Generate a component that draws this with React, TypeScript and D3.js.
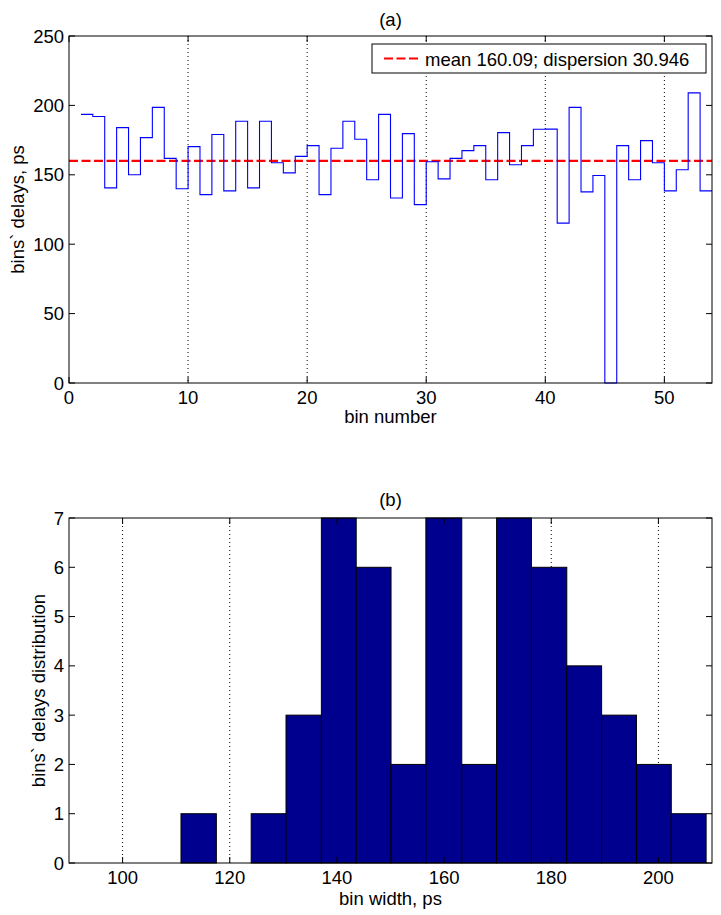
import React from "react";
import * as d3 from "d3";

const binNumbers = [1,2,3,4,5,6,7,8,9,10,11,12,13,14,15,16,17,18,19,20,21,22,23,24,25,26,27,28,29,30,31,32,33,34,35,36,37,38,39,40,41,42,43,44,45,46,47,48,49,50,51,52,53];
const binDelays = [193.5,192.0,140.6,184.0,150.0,176.8,198.6,161.8,139.9,170.3,135.7,179.0,138.4,188.6,140.6,188.6,158.7,151.4,163.3,171.0,135.7,169.1,188.6,175.6,146.4,193.5,133.3,179.7,128.5,159.4,147.1,161.8,167.4,171.0,146.4,180.4,157.2,171.0,182.8,182.9,115.2,198.6,137.7,149.5,0,171.0,146.4,174.6,158.7,138.4,153.6,209.0,138.4];
const meanDelay = 160.09;
const legendLabel = "mean 160.09; dispersion 30.946";

const histEdges = [110.9,117.5,124.0,130.5,137.1,143.6,150.1,156.6,163.3,169.8,176.3,182.9,189.4,195.9,202.4,208.9];
const histCounts = [1,0,1,3,7,6,2,7,2,7,6,4,3,2,1];

const topXTicks = [0,10,20,30,40,50];
const topYTicks = [0,50,100,150,200,250];
const botXTicks = [100,120,140,160,180,200];
const botYTicks = [0,1,2,3,4,5,6,7];

const FONT = "'Liberation Sans', Arial, Helvetica, sans-serif";
const FS = 18.5;

export default function App() {
  const L = 69, R = 712;
  const aT = 36, aB = 383;
  const bT = 518, bB = 863;

  const xA = d3.scaleLinear().domain([0, 54]).range([L, R]);
  const yA = d3.scaleLinear().domain([0, 250]).range([aB, aT]);
  const xB = d3.scaleLinear().domain([90, 210]).range([L, R]);
  const yB = d3.scaleLinear().domain([0, 7]).range([bB, bT]);

  const stairPts: [number, number][] = binNumbers.map((b, i) => [b, binDelays[i]]);
  stairPts.push([binNumbers[binNumbers.length - 1] + 1, binDelays[binDelays.length - 1]]);
  const stairPath = d3.line<[number, number]>()
    .x(d => xA(d[0]))
    .y(d => yA(d[1]))
    .curve(d3.curveStepAfter)(stairPts) || "";

  const tk = 6;

  const frame = (top: number, bottom: number) => (
    <rect x={L} y={top} width={R - L} height={bottom - top} fill="none" stroke="#000" strokeWidth={1} />
  );

  return (
    <svg width={721} height={915} style={{ display: "block", position: "absolute", left: 0, top: 0 }}
      fontFamily={FONT} fontSize={FS}>
      <rect x={0} y={0} width={721} height={915} fill="#fff" />

      {/* ---------- Top chart (a) ---------- */}
      <text x={(L + R) / 2} y={26} textAnchor="middle">(a)</text>
      {topXTicks.filter(t => t > 0).map(t => (
        <line key={"ga" + t} x1={xA(t)} x2={xA(t)} y1={aT} y2={aB} stroke="#000" strokeWidth={1} strokeDasharray="1,3" />
      ))}
      <line x1={L} x2={R} y1={yA(meanDelay)} y2={yA(meanDelay)} stroke="#ff0000" strokeWidth={2.2} strokeDasharray="9,3.5" />
      <path d={stairPath} fill="none" stroke="#0000ff" strokeWidth={1.1} />
      {frame(aT, aB)}
      {topXTicks.map(t => (
        <g key={"xa" + t}>
          <line x1={xA(t)} x2={xA(t)} y1={aB} y2={aB - tk} stroke="#000" />
          <line x1={xA(t)} x2={xA(t)} y1={aT} y2={aT + tk} stroke="#000" />
          <text x={xA(t)} y={aB + 21} textAnchor="middle">{t}</text>
        </g>
      ))}
      {topYTicks.map(t => (
        <g key={"ya" + t}>
          <line x1={L} x2={L + tk} y1={yA(t)} y2={yA(t)} stroke="#000" />
          <line x1={R} x2={R - tk} y1={yA(t)} y2={yA(t)} stroke="#000" />
          <text x={L - 5} y={yA(t) + 6.5} textAnchor="end">{t}</text>
        </g>
      ))}
      <text x={(L + R) / 2} y={423} textAnchor="middle">bin number</text>
      <text transform={`translate(24, ${(aT + aB) / 2}) rotate(-90)`} textAnchor="middle">bins` delays, ps</text>

      {/* legend */}
      <rect x={372} y={44} width={334} height={29} fill="#fff" stroke="#000" strokeWidth={1} />
      <line x1={384} x2={420} y1={58.5} y2={58.5} stroke="#ff0000" strokeWidth={2.2} strokeDasharray="9,3.5" />
      <text x={425} y={65.5}>{legendLabel}</text>

      {/* ---------- Bottom chart (b) ---------- */}
      <text x={(L + R) / 2} y={506} textAnchor="middle">(b)</text>
      {botXTicks.map(t => (
        <line key={"gb" + t} x1={xB(t)} x2={xB(t)} y1={bT} y2={bB} stroke="#000" strokeWidth={1} strokeDasharray="1,3" />
      ))}
      {histCounts.map((c, i) => c > 0 ? (
        <rect key={"bar" + i} x={xB(histEdges[i])} y={yB(c)} width={xB(histEdges[i + 1]) - xB(histEdges[i])}
          height={yB(0) - yB(c)} fill="#00008f" stroke="#000" strokeWidth={1} />
      ) : null)}
      {frame(bT, bB)}
      {botXTicks.map(t => (
        <g key={"xb" + t}>
          <line x1={xB(t)} x2={xB(t)} y1={bB} y2={bB - tk} stroke="#000" />
          <line x1={xB(t)} x2={xB(t)} y1={bT} y2={bT + tk} stroke="#000" />
          <text x={xB(t)} y={bB + 21} textAnchor="middle">{t}</text>
        </g>
      ))}
      {botYTicks.map(t => (
        <g key={"yb" + t}>
          <line x1={L} x2={L + tk} y1={yB(t)} y2={yB(t)} stroke="#000" />
          <line x1={R} x2={R - tk} y1={yB(t)} y2={yB(t)} stroke="#000" />
          <text x={L - 5} y={yB(t) + 6.5} textAnchor="end">{t}</text>
        </g>
      ))}
      <text x={(L + R) / 2} y={905} textAnchor="middle">bin width, ps</text>
      <text transform={`translate(45, ${(bT + bB) / 2}) rotate(-90)`} textAnchor="middle">bins` delays distribution</text>
    </svg>
  );
}
